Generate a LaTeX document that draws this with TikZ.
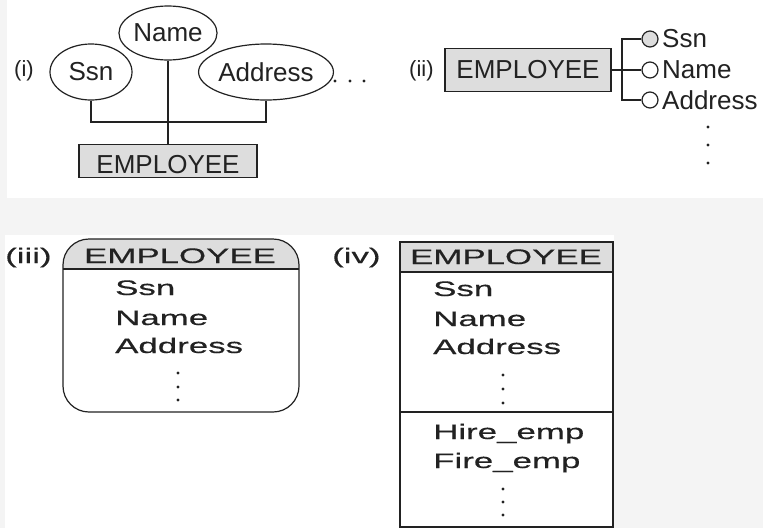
\documentclass[tikz,border=0pt]{standalone}
\usepackage{fontspec}
\setmainfont{Liberation Sans}
\newfontfamily\widefnt[FakeStretch=1.66,FakeBold=0.4]{Liberation Sans}
\usetikzlibrary{shapes.geometric}
\definecolor{bgc}{HTML}{F4F4F4}
\definecolor{boxgray}{HTML}{DDDDDD}
\definecolor{ink}{HTML}{222222}
\tikzset{
  topfont/.style={font=\fontsize{26}{30}\selectfont, text=ink},
  lblfont/.style={font=\fontsize{22}{26}\selectfont, text=ink},
  widefont/.style={font=\widefnt\fontsize{21}{25}\selectfont, text=ink},
  attr/.style={ellipse, draw=ink, line width=1.2pt, inner sep=0pt, topfont},
  entbox/.style={rectangle, draw=ink, fill=boxgray, line width=1.2pt, inner sep=0pt},
  conn/.style={draw=ink, line width=1.2pt},
  attrdot/.style={circle, draw=ink, line width=1.2pt, inner sep=0pt, minimum size=16pt, fill=white},
  txt/.style={inner sep=0pt},
  dotmark/.style={fill=ink},
}
\begin{document}
\begin{tikzpicture}[x=1pt,y=-1pt]
\useasboundingbox (0,0) rectangle (763,528);
% backgrounds
\fill[bgc] (0,0) rectangle (763,528);
\fill[white] (7,0) rectangle (763,198);
\fill[white] (5,235) rectangle (614,528);

% ---------- (i) ----------
\node[txt, lblfont, anchor=base west] (li) at (14,76) {(i)};
\node[attr, minimum width=82pt, minimum height=56pt] (ssn) at (91,72) {Ssn};
\node[attr, minimum width=98pt, minimum height=54pt] (name) at (168,33) {Name};
\node[attr, minimum width=126pt, minimum height=56pt] (addr) at (266,72) {Address};
\node[entbox, minimum width=178pt, minimum height=33pt] (e1) at (168,161) {};
\node[txt, topfont, anchor=base] (e1t) at (168,173) {EMPLOYEE};
\coordinate (jl) at (91,122);
\draw[conn] (ssn.south) -- (jl) -| (addr.south);
\draw[conn] (name.south) -- (e1.north);
\foreach \x in {335,350,364} \fill[dotmark] (\x,81) circle (1.6pt);

% ---------- (ii) ----------
\node[txt, lblfont, anchor=base west] (lii) at (409,76) {(ii)};
\node[entbox, minimum width=166pt, minimum height=43pt] (e2) at (528,70) {};
\node[txt, topfont, anchor=base] (e2t) at (528,78) {EMPLOYEE};
\node[attrdot, fill=boxgray] (c1) at (650,39) {};
\node[attrdot] (c2) at (650,70) {};
\node[attrdot] (c3) at (650,100) {};
\coordinate (j2) at (622,70);
\draw[conn] (e2.east) -- (c2.west);
\draw[conn] (c1.west) -| (j2) |- (c3.west);
\node[txt, topfont, anchor=west] (s2) at (662,39) {Ssn};
\node[txt, topfont, anchor=west] (n2) at (662,70) {Name};
\node[txt, topfont, anchor=west] (a2) at (662,100) {Address};
\foreach \y in {127,145,163} \fill[dotmark] (708,\y) circle (1.6pt);

% ---------- (iii) ----------
\node[txt, widefont, anchor=base west] (liii) at (5,263) {(iii)};
\begin{scope}
  \clip[rounded corners=26pt] (63,239) rectangle (299,412);
  \fill[boxgray] (63,239) rectangle (299,269);
\end{scope}
\draw[conn, rounded corners=26pt] (63,239) rectangle (299,412);
\draw[conn] (63,269) -- (299,269);
\node[txt, widefont, anchor=base] (e3t) at (180,263) {EMPLOYEE};
\node[txt, widefont, anchor=base west] (s3) at (115,295) {Ssn};
\node[txt, widefont, anchor=base west] (n3) at (115,325) {Name};
\node[txt, widefont, anchor=base west] (a3) at (115,353) {Address};
\foreach \y in {373,387,400} \fill[dotmark] (178,\y) circle (1.6pt);

% ---------- (iv) ----------
\node[txt, widefont, anchor=base west] (liv) at (332,263) {(iv)};
\fill[boxgray] (400,242) rectangle (613,272);
\draw[conn] (400,242) rectangle (613,527);
\draw[conn] (400,272) -- (613,272);
\draw[conn] (400,412) -- (613,412);
\node[txt, widefont, anchor=base] (e4t) at (506,264) {EMPLOYEE};
\node[txt, widefont, anchor=base west] (s4) at (433,296) {Ssn};
\node[txt, widefont, anchor=base west] (n4) at (433,326) {Name};
\node[txt, widefont, anchor=base west] (a4) at (433,354) {Address};
\foreach \y in {375,389,403} \fill[dotmark] (503,\y) circle (1.6pt);
\node[txt, widefont, anchor=base west] (h4) at (433,439) {Hire\_emp};
\node[txt, widefont, anchor=base west] (f4) at (433,468) {Fire\_emp};
\foreach \y in {489,502,515} \fill[dotmark] (503,\y) circle (1.6pt);
\end{tikzpicture}
\end{document}
